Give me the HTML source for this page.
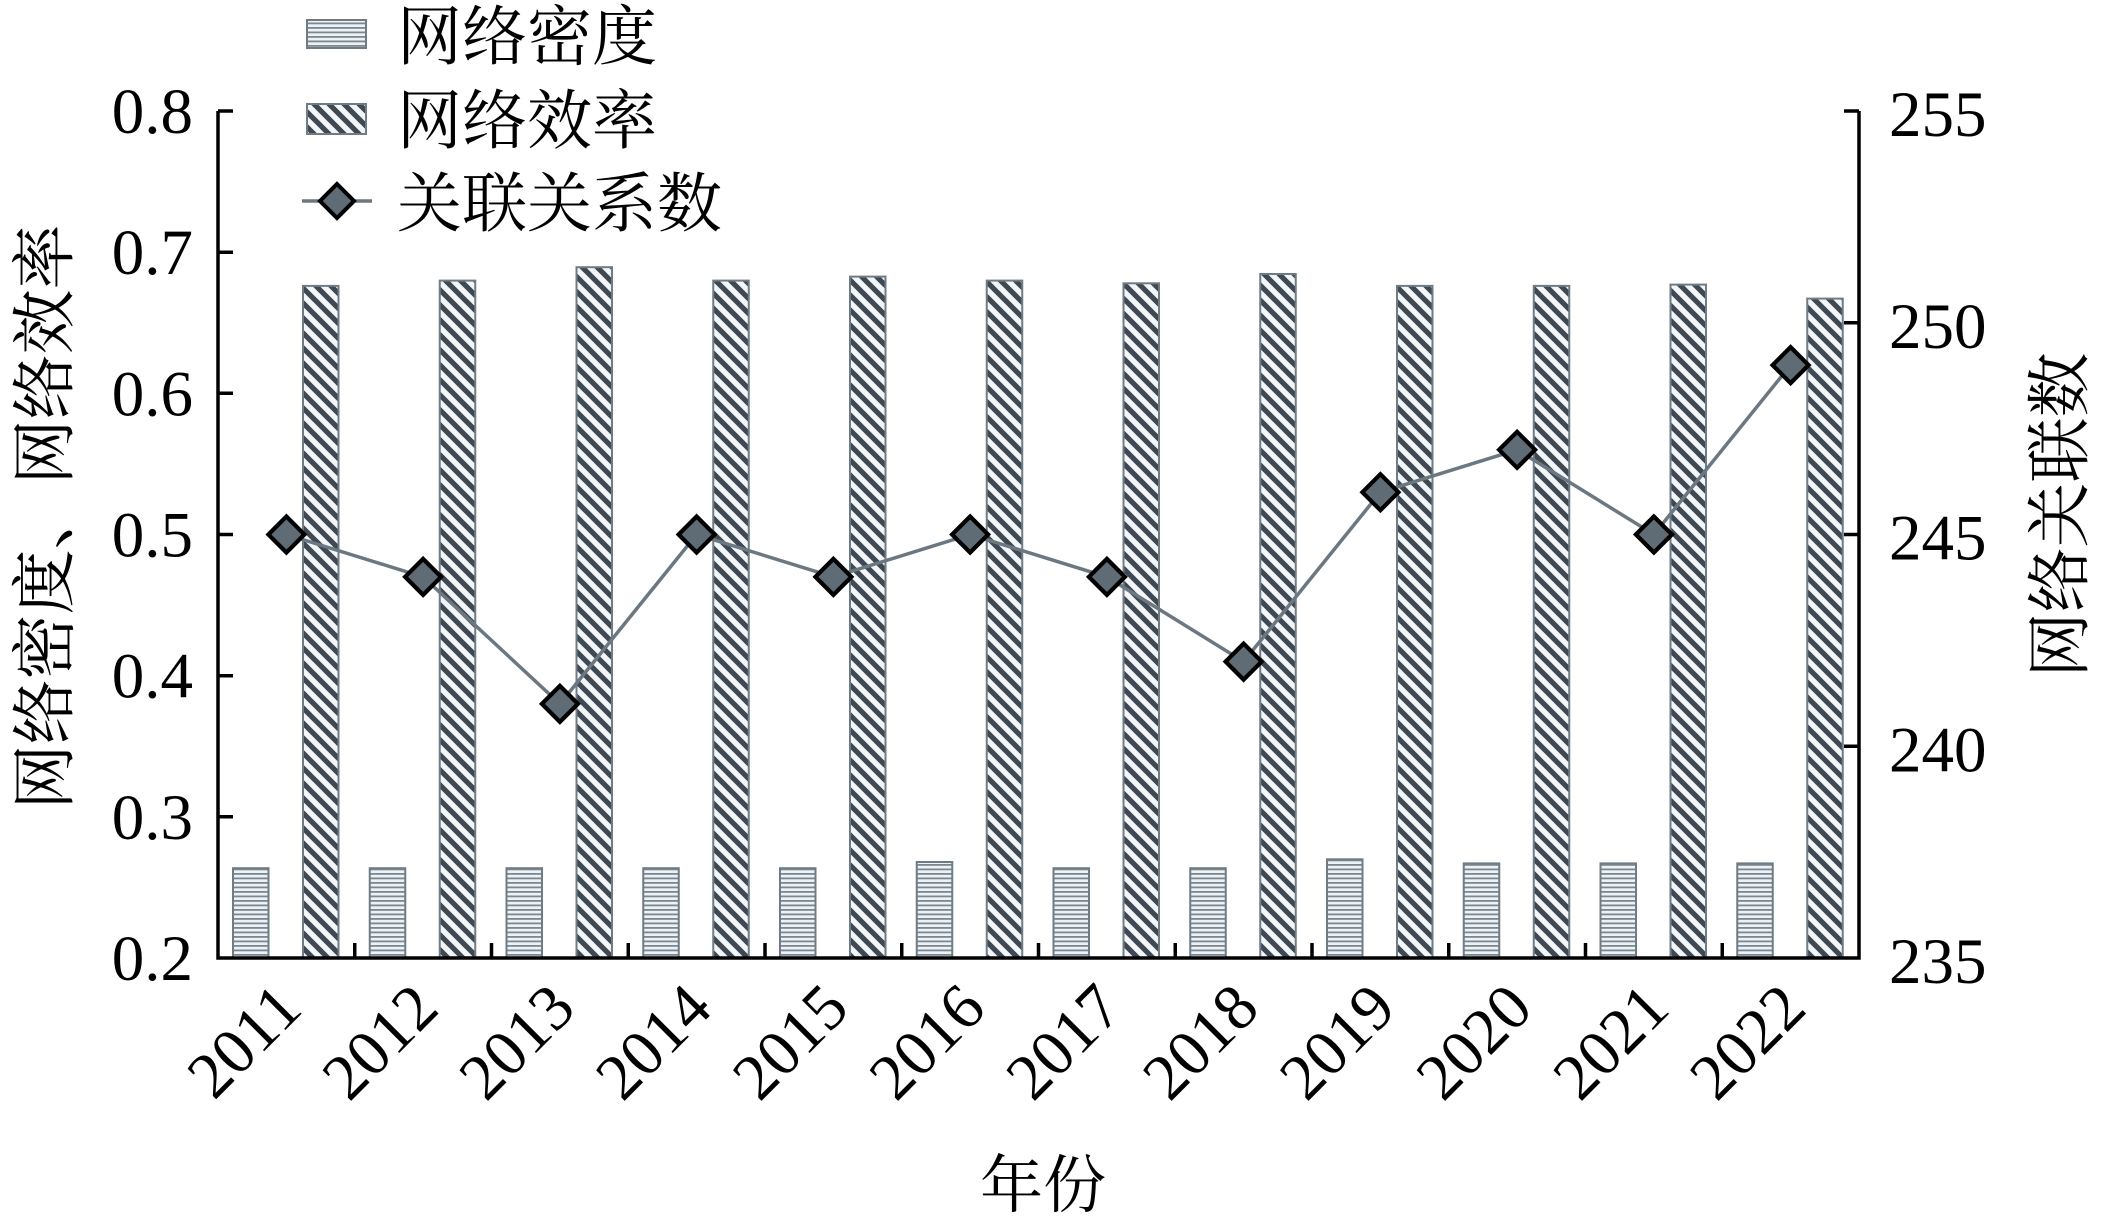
<!DOCTYPE html>
<html><head><meta charset="utf-8"><style>
html,body{margin:0;padding:0;background:#fff;}
svg{display:block;}
</style></head><body>
<svg width="2101" height="1226" viewBox="0 0 2101 1226" xmlns="http://www.w3.org/2000/svg">
<defs>
<pattern id="hz" patternUnits="userSpaceOnUse" width="4.5" height="4.5">
<rect x="0" y="0" width="4.5" height="4.5" fill="#eef2f5"/>
<rect x="0" y="0" width="4.5" height="1.8" fill="#7a8892"/>
</pattern>
<pattern id="dg" patternUnits="userSpaceOnUse" width="15" height="15">
<rect x="0" y="0" width="15" height="15" fill="#f3f6f8"/>
<path d="M-3,-3 L18,18 M12,-3 L18,3 M-3,12 L3,18" stroke="#3e4953" stroke-width="5.2"/>
</pattern>
</defs>
<rect width="2101" height="1226" fill="#fff"/>

<g stroke="#6f7c86" stroke-width="2">
<rect x="233" y="868.2" width="35.5" height="89.8" fill="url(#hz)"/>
<rect x="303" y="285.9" width="35.5" height="672.1" fill="url(#dg)"/>
<rect x="369.75" y="868.2" width="35.5" height="89.8" fill="url(#hz)"/>
<rect x="439.75" y="280.6" width="35.5" height="677.4" fill="url(#dg)"/>
<rect x="506.5" y="868.2" width="35.5" height="89.8" fill="url(#hz)"/>
<rect x="576.5" y="267.2" width="35.5" height="690.8" fill="url(#dg)"/>
<rect x="643.25" y="868.2" width="35.5" height="89.8" fill="url(#hz)"/>
<rect x="713.25" y="280.6" width="35.5" height="677.4" fill="url(#dg)"/>
<rect x="780" y="868.2" width="35.5" height="89.8" fill="url(#hz)"/>
<rect x="850" y="276.6" width="35.5" height="681.4" fill="url(#dg)"/>
<rect x="916.75" y="862.0" width="35.5" height="96.0" fill="url(#hz)"/>
<rect x="986.75" y="280.6" width="35.5" height="677.4" fill="url(#dg)"/>
<rect x="1053.5" y="868.2" width="35.5" height="89.8" fill="url(#hz)"/>
<rect x="1123.5" y="283.3" width="35.5" height="674.7" fill="url(#dg)"/>
<rect x="1190.25" y="868.2" width="35.5" height="89.8" fill="url(#hz)"/>
<rect x="1260.25" y="274.0" width="35.5" height="684.0" fill="url(#dg)"/>
<rect x="1327" y="859.3" width="35.5" height="98.7" fill="url(#hz)"/>
<rect x="1397" y="285.9" width="35.5" height="672.1" fill="url(#dg)"/>
<rect x="1463.75" y="863.4" width="35.5" height="94.6" fill="url(#hz)"/>
<rect x="1533.75" y="285.9" width="35.5" height="672.1" fill="url(#dg)"/>
<rect x="1600.5" y="863.4" width="35.5" height="94.6" fill="url(#hz)"/>
<rect x="1670.5" y="284.6" width="35.5" height="673.4" fill="url(#dg)"/>
<rect x="1737.25" y="863.4" width="35.5" height="94.6" fill="url(#hz)"/>
<rect x="1807.25" y="298.6" width="35.5" height="659.4" fill="url(#dg)"/>
</g>

<!-- axes -->
<g stroke="#000" stroke-width="3.5" fill="none">
<path d="M218,111 L218,958 L1859,958 L1859,111"/>
<path d="M218,111 H233 M218,252.2 H233 M218,393.3 H233 M218,534.5 H233 M218,675.7 H233 M218,816.8 H233"/>
<path d="M1859,111 H1844 M1859,322.75 H1844 M1859,534.5 H1844 M1859,746.25 H1844"/>
<path d="M354.75,958 V943 M491.5,958 V943 M628.25,958 V943 M765,958 V943 M901.75,958 V943 M1038.5,958 V943 M1175.25,958 V943 M1312,958 V943 M1448.75,958 V943 M1585.5,958 V943 M1722.25,958 V943"/>
</g>

<!-- line series -->
<polyline fill="none" stroke="#6b7781" stroke-width="3.5" points="286.4,534.5 423.1,576.9 559.9,703.9 696.6,534.5 833.4,576.9 970.1,534.5 1106.9,576.9 1243.6,661.6 1380.4,492.2 1517.1,449.8 1653.9,534.5 1790.6,365.1"/>
<g fill="#5f6b75" stroke="#000" stroke-width="4.2">
<polygon points="286.4,516.5 304.4,534.5 286.4,552.5 268.4,534.5"/>
<polygon points="423.1,558.9 441.1,576.9 423.1,594.9 405.1,576.9"/>
<polygon points="559.9,685.9 577.9,703.9 559.9,721.9 541.9,703.9"/>
<polygon points="696.6,516.5 714.6,534.5 696.6,552.5 678.6,534.5"/>
<polygon points="833.4,558.9 851.4,576.9 833.4,594.9 815.4,576.9"/>
<polygon points="970.1,516.5 988.1,534.5 970.1,552.5 952.1,534.5"/>
<polygon points="1106.9,558.9 1124.9,576.9 1106.9,594.9 1088.9,576.9"/>
<polygon points="1243.6,643.6 1261.6,661.6 1243.6,679.6 1225.6,661.6"/>
<polygon points="1380.4,474.2 1398.4,492.2 1380.4,510.2 1362.4,492.2"/>
<polygon points="1517.1,431.8 1535.1,449.8 1517.1,467.8 1499.1,449.8"/>
<polygon points="1653.9,516.5 1671.9,534.5 1653.9,552.5 1635.9,534.5"/>
<polygon points="1790.6,347.1 1808.6,365.1 1790.6,383.1 1772.6,365.1"/>
</g>

<g font-family="'Liberation Serif', 'Times New Roman', Times, serif" font-size="65" fill="#000">
<!-- left tick labels -->
<g text-anchor="end">
<text x="193" y="133">0.8</text>
<text x="193" y="274.2">0.7</text>
<text x="193" y="415.3">0.6</text>
<text x="193" y="556.5">0.5</text>
<text x="193" y="697.7">0.4</text>
<text x="193" y="838.8">0.3</text>
<text x="193" y="980">0.2</text>
</g>
<!-- right tick labels -->
<g text-anchor="start">
<text x="1889" y="136">255</text>
<text x="1889" y="347.75">250</text>
<text x="1889" y="559.5">245</text>
<text x="1889" y="771.25">240</text>
<text x="1889" y="983">235</text>
</g>
<!-- x labels -->
<g text-anchor="end">
<text transform="translate(304.4,1011) rotate(-45)">2011</text>
<text transform="translate(441.1,1011) rotate(-45)">2012</text>
<text transform="translate(577.9,1011) rotate(-45)">2013</text>
<text transform="translate(714.6,1011) rotate(-45)">2014</text>
<text transform="translate(851.4,1011) rotate(-45)">2015</text>
<text transform="translate(988.1,1011) rotate(-45)">2016</text>
<text transform="translate(1124.9,1011) rotate(-45)">2017</text>
<text transform="translate(1261.6,1011) rotate(-45)">2018</text>
<text transform="translate(1398.4,1011) rotate(-45)">2019</text>
<text transform="translate(1535.1,1011) rotate(-45)">2020</text>
<text transform="translate(1671.9,1011) rotate(-45)">2021</text>
<text transform="translate(1808.6,1011) rotate(-45)">2022</text>
</g>
</g>

<g font-family="'Noto Serif CJK SC', 'Noto Sans CJK SC', serif" font-size="65" fill="#000">
<!-- axis titles -->
<text x="1043" y="1207" text-anchor="middle" font-size="63">年份</text>
<text text-anchor="middle" transform="translate(67,517) rotate(-90)">网络密度、网络效率</text>
<text text-anchor="middle" transform="translate(2082,515) rotate(-90)">网络关联数</text>
<!-- legend text -->
<text x="397" y="59">网络密度</text>
<text x="397" y="143">网络效率</text>
<text x="397" y="226">关联关系数</text>
</g>

<!-- legend -->
<rect x="307" y="20" width="59" height="28" fill="url(#hz)" stroke="#6f7c86" stroke-width="2"/>
<rect x="307" y="104" width="59" height="30" fill="url(#dg)" stroke="#6f7c86" stroke-width="2"/>
<line x1="302" y1="201" x2="372" y2="201" stroke="#6b7781" stroke-width="3.5"/>
<polygon points="337,184 354,201 337,218 320,201" fill="#5f6b75" stroke="#000" stroke-width="4"/>
</svg>
</body></html>
